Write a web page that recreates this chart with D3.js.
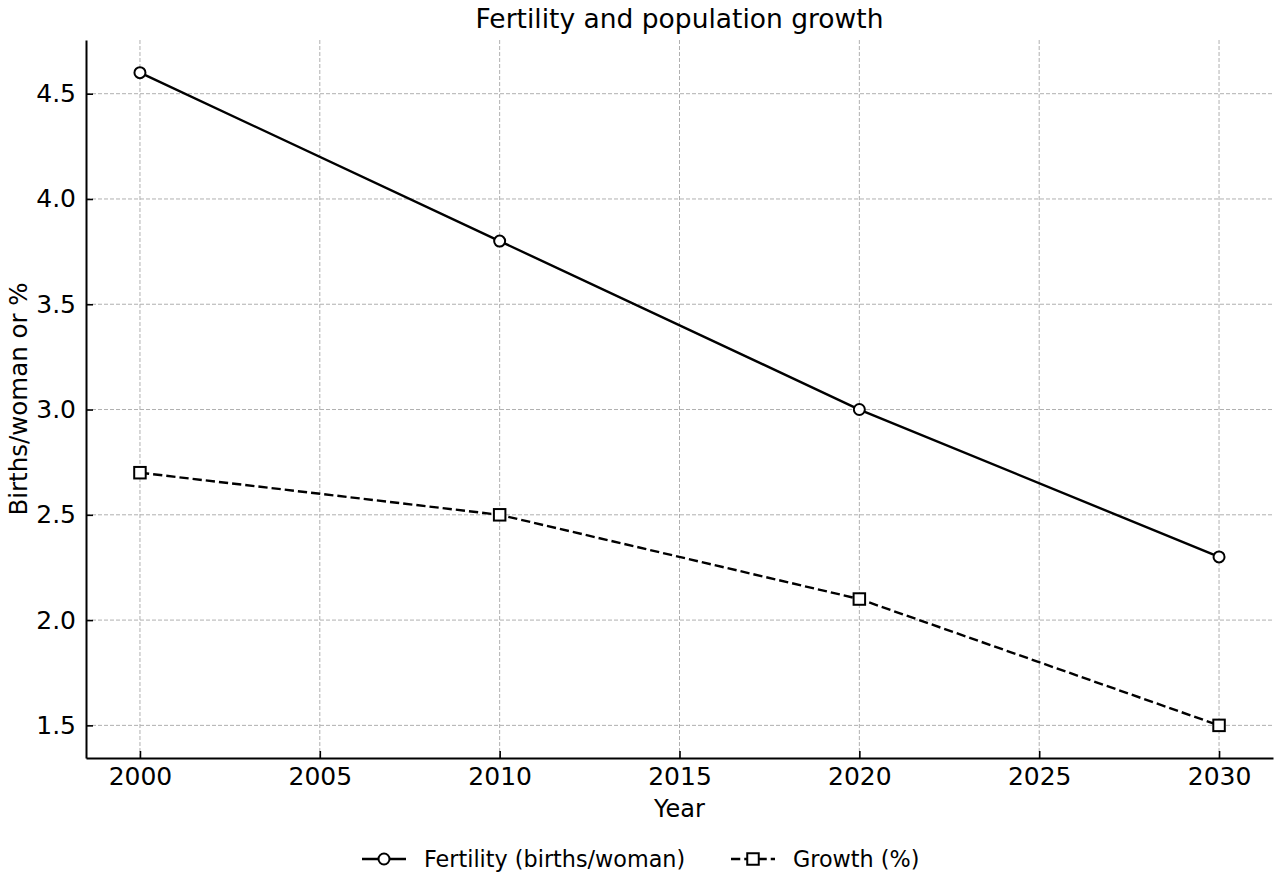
<!DOCTYPE html>
<html>
<head>
<meta charset="utf-8">
<script src="https://cdn.jsdelivr.net/npm/d3@7"></script>
<style>
  body { margin: 0; background: #fff; }
  svg text { font-family: "DejaVu Sans", sans-serif; fill: #000; }
</style>
</head>
<body>
<svg id="chart" width="1280" height="880"></svg>
<script>
'use strict';

// Data.
const years = [2000, 2010, 2020, 2030];
const fertility = [4.6, 3.8, 3.0, 2.3];
const growth = [2.7, 2.5, 2.1, 1.5];
const xTicks = [2000, 2005, 2010, 2015, 2020, 2025, 2030];
const yTicks = [1.5, 2.0, 2.5, 3.0, 3.5, 4.0, 4.5];

const series = [
  { name: 'Fertility (births/woman)', values: fertility, marker: 'circle', dash: null },
  { name: 'Growth (%)', values: growth, marker: 'square', dash: '9.25,4' }
];

const svg = d3.select('#chart');
const margin = { top: 40, right: 7, bottom: 122, left: 86 };
const width = 1280 - margin.left - margin.right;
const height = 880 - margin.top - margin.bottom;

// matplotlib-style 5% padding around the data range
const allY = fertility.concat(growth);
const yMin = d3.min(allY), yMax = d3.max(allY);
const yPad = (yMax - yMin) * 0.05;
const xPad = (d3.max(years) - d3.min(years)) * 0.05;

const x = d3.scaleLinear()
  .domain([d3.min(years) - xPad, d3.max(years) + xPad])
  .range([0, width]);
const y = d3.scaleLinear()
  .domain([yMin - yPad, yMax + yPad])
  .range([height, 0]);

const g = svg.append('g').attr('transform', `translate(${margin.left},${margin.top})`);

// Grid lines
const grid = g.append('g').attr('class', 'grid');
grid.selectAll('line.gx').data(xTicks).join('line')
  .attr('x1', d => x(d)).attr('x2', d => x(d))
  .attr('y1', 0).attr('y2', height)
  .attr('stroke', '#b0b0b0').attr('stroke-width', 1).attr('stroke-dasharray', '4,2');
grid.selectAll('line.gy').data(yTicks).join('line')
  .attr('x1', 0).attr('x2', width)
  .attr('y1', d => y(d)).attr('y2', d => y(d))
  .attr('stroke', '#b0b0b0').attr('stroke-width', 1).attr('stroke-dasharray', '4,2');

// Axes, ticks pointing inward
const xAxis = g.append('g')
  .attr('transform', `translate(0,${height})`)
  .call(d3.axisBottom(x).tickValues(xTicks).tickFormat(d3.format('d')).tickSizeInner(-7).tickSizeOuter(0).tickPadding(9));
const yAxis = g.append('g')
  .call(d3.axisLeft(y).tickValues(yTicks).tickFormat(d3.format('.1f')).tickSizeInner(-7).tickSizeOuter(0).tickPadding(10));

[xAxis, yAxis].forEach(ax => {
  ax.attr('font-size', null).attr('font-family', null);
  ax.select('.domain').attr('stroke', '#000').attr('stroke-width', 2);
  ax.selectAll('.tick line').attr('stroke', '#000').attr('stroke-width', 1.6);
  ax.selectAll('.tick text').attr('font-size', 25);
});

// Lines and markers
const line = d3.line().x((d, i) => x(years[i])).y(d => y(d));

function drawMarker(sel, type, size) {
  if (type === 'circle') {
    sel.append('circle').attr('r', size / 2);
  } else {
    sel.append('rect').attr('x', -size / 2).attr('y', -size / 2).attr('width', size).attr('height', size);
  }
  sel.selectAll('circle, rect').attr('fill', '#fff').attr('stroke', '#000').attr('stroke-width', 2);
}

series.forEach(s => {
  g.append('path')
    .datum(s.values)
    .attr('d', line)
    .attr('fill', 'none')
    .attr('stroke', '#000')
    .attr('stroke-width', 2.4)
    .attr('stroke-dasharray', s.dash);

  s.values.forEach((v, i) => {
    const m = g.append('g').attr('transform', `translate(${x(years[i])},${y(v)})`);
    drawMarker(m, s.marker, s.marker === 'circle' ? 11 : 11.5);
  });
});

// Titles
svg.append('text')
  .attr('x', margin.left + width / 2).attr('y', 28)
  .attr('text-anchor', 'middle').attr('font-size', 26.5)
  .text('Fertility and population growth');
svg.append('text')
  .attr('x', margin.left + width / 2).attr('y', 817)
  .attr('text-anchor', 'middle').attr('font-size', 24)
  .text('Year');
svg.append('text')
  .attr('transform', `translate(27,${margin.top + height / 2}) rotate(-90)`)
  .attr('text-anchor', 'middle').attr('font-size', 24.5)
  .text('Births/woman or %');

// Legend
const legendX = [362, 731];
const legend = svg.append('g').attr('transform', 'translate(0,859)');
series.forEach((s, i) => {
  const item = legend.append('g').attr('transform', `translate(${legendX[i]},0)`);
  item.append('line')
    .attr('x1', 0).attr('x2', 44).attr('y1', 0).attr('y2', 0)
    .attr('stroke', '#000').attr('stroke-width', 2.4)
    .attr('stroke-dasharray', s.dash);
  const m = item.append('g').attr('transform', 'translate(22,0)');
  drawMarker(m, s.marker, s.marker === 'circle' ? 11 : 11.5);
  item.append('text')
    .attr('x', 62).attr('y', 8).attr('font-size', 22.3)
    .text(s.name);
});
</script>
</body>
</html>
